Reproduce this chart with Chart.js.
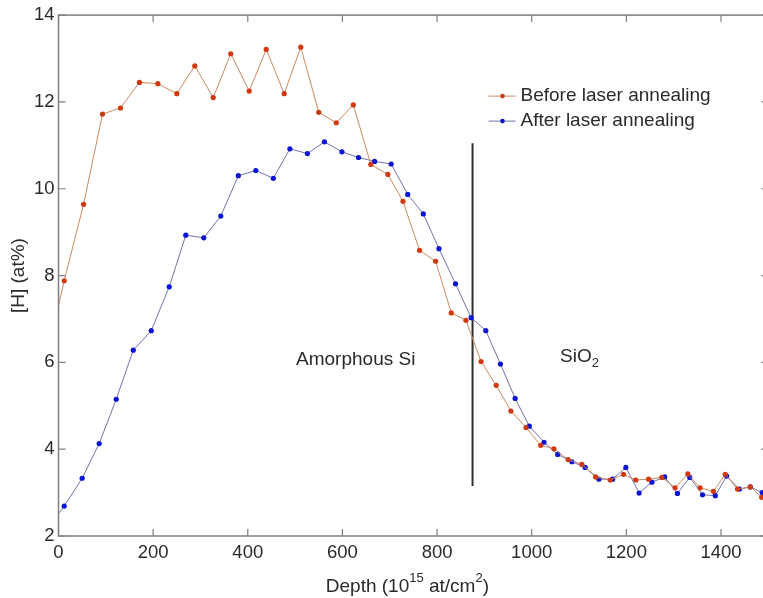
<!DOCTYPE html>
<html><head><meta charset="utf-8">
<script src="https://cdn.jsdelivr.net/npm/chart.js@4/dist/chart.umd.min.js"></script>
<style>
html,body{margin:0;padding:0;overflow:hidden;background:#fff;width:763px;height:598px}
#wrap{position:relative;width:775px;height:598px}
canvas{display:block}
</style>
</head><body><div id="wrap"><canvas id="c" width="775" height="598"></canvas></div>
<script>
// ---- data ----
const seriesLabels = ['Before laser annealing', 'After laser annealing'];
const beforeDepth = [-25, 12, 53, 93, 131, 171, 210, 250, 288, 327, 364, 403, 439, 477, 512, 550, 587, 623, 660, 696, 728, 763, 797, 830, 861, 893, 925, 956, 988, 1019, 1047, 1077, 1106, 1135, 1166, 1194, 1220, 1247, 1275, 1303, 1330, 1356, 1384, 1409, 1435, 1462, 1486];
const beforeH = [6.09, 7.88, 9.64, 11.72, 11.86, 12.45, 12.42, 12.19, 12.83, 12.10, 13.11, 12.25, 13.21, 12.19, 13.26, 11.76, 11.52, 11.93, 10.56, 10.33, 9.71, 8.58, 8.33, 7.14, 6.97, 6.02, 5.47, 4.88, 4.50, 4.09, 4.01, 3.76, 3.65, 3.36, 3.29, 3.42, 3.29, 3.31, 3.35, 3.11, 3.43, 3.11, 3.03, 3.42, 3.08, 3.13, 2.89];
const afterDepth = [-25, 12, 50, 86, 122, 158, 196, 234, 269, 307, 343, 380, 417, 454, 489, 526, 562, 599, 634, 668, 703, 738, 771, 804, 839, 872, 903, 934, 965, 995, 1026, 1055, 1085, 1113, 1142, 1171, 1199, 1227, 1254, 1281, 1308, 1334, 1361, 1388, 1412, 1439, 1462, 1487];
const afterH = [2.15, 2.69, 3.33, 4.13, 5.15, 6.28, 6.73, 7.74, 8.93, 8.87, 9.37, 10.30, 10.42, 10.24, 10.92, 10.81, 11.08, 10.85, 10.72, 10.63, 10.57, 9.87, 9.42, 8.62, 7.81, 7.03, 6.73, 5.96, 5.17, 4.53, 4.16, 3.88, 3.71, 3.58, 3.31, 3.31, 3.58, 2.99, 3.24, 3.36, 2.98, 3.35, 2.95, 2.93, 3.38, 3.08, 3.13, 3.00];
const dividerDepth = [875, 875];
const dividerH = [3.15, 11.05];
const xTicks = [0, 200, 400, 600, 800, 1000, 1200, 1400];
const yTicks = [2, 4, 6, 8, 10, 12, 14];
const regionLabels = ['Amorphous Si', 'SiO'];
const regionAnchorDepth = [502, 1060];
const regionAnchorH = [5.94, 6.0];

// ---- styling ----
const FONT = '"Liberation Sans", Arial, Helvetica, sans-serif';
const TEXT = '#2a2a2a';
const AXIS = '#7f7f7f';
const RED_LINE = '#c98a62', RED_PT = '#d2380f';
const BLUE_LINE = '#6f76ab', BLUE_PT = '#0a14d4';

const zip = (xs, ys) => xs.map((v, i) => ({ x: v, y: ys[i] }));

const overlay = {
  id: 'overlay',
  afterDraw(chart) {
    const { ctx, chartArea: a, scales: { x, y } } = chart;
    ctx.save();
    // box
    ctx.strokeStyle = AXIS; ctx.lineWidth = 1.5;
    ctx.strokeRect(a.left, a.top, a.right - a.left, a.bottom - a.top);
    // inward ticks
    ctx.lineWidth = 1.2;
    ctx.beginPath();
    x.ticks.forEach(t => {
      const px = x.getPixelForValue(t.value);
      ctx.moveTo(px, a.bottom); ctx.lineTo(px, a.bottom - 7);
      ctx.moveTo(px, a.top); ctx.lineTo(px, a.top + 7);
    });
    y.ticks.forEach(t => {
      const py = y.getPixelForValue(t.value);
      ctx.moveTo(a.left, py); ctx.lineTo(a.left + 7, py);
      ctx.moveTo(a.right, py); ctx.lineTo(a.right - 7, py);
    });
    ctx.stroke();

    // legend
    ctx.font = '19px ' + FONT;
    ctx.textBaseline = 'middle';
    ctx.fillStyle = TEXT;
    const ds = chart.data.datasets;
    [0, 1].forEach(i => {
      const ly = a.top + 81 + i * 25;
      const lx = a.left + 430;
      ctx.strokeStyle = ds[i].borderColor; ctx.lineWidth = 1;
      ctx.beginPath(); ctx.moveTo(lx, ly); ctx.lineTo(lx + 27, ly); ctx.stroke();
      ctx.fillStyle = ds[i].pointBackgroundColor;
      ctx.beginPath(); ctx.arc(lx + 14, ly, 2.3, 0, Math.PI * 2); ctx.fill();
      ctx.fillStyle = TEXT;
      ctx.textAlign = 'left';
      ctx.fillText(ds[i].label, lx + 32, ly);
    });

    // region labels
    ctx.textBaseline = 'alphabetic';
    ctx.textAlign = 'left';
    ctx.font = '19px ' + FONT;
    const p0x = x.getPixelForValue(regionAnchorDepth[0]), p0y = y.getPixelForValue(regionAnchorH[0]);
    ctx.fillText(regionLabels[0], p0x, p0y);
    const p1x = x.getPixelForValue(regionAnchorDepth[1]), p1y = y.getPixelForValue(regionAnchorH[1]);
    ctx.fillText(regionLabels[1], p1x, p1y);
    const w1 = ctx.measureText(regionLabels[1]).width;
    ctx.font = '13px ' + FONT;
    ctx.fillText('2', p1x + w1, p1y + 5);

    // x axis title with superscripts
    const parts = [['Depth (10', 19, 0], ['15', 13, -10], [' at/cm', 19, 0], ['2', 13, -10], [')', 19, 0]];
    let total = 0;
    parts.forEach(p => { ctx.font = p[1] + 'px ' + FONT; total += ctx.measureText(p[0]).width; });
    let cx = (a.left + a.right) / 2 - 6 - total / 2;
    const by = a.bottom + 56;
    parts.forEach(p => {
      ctx.font = p[1] + 'px ' + FONT;
      ctx.fillText(p[0], cx, by + p[2]);
      cx += ctx.measureText(p[0]).width;
    });
    ctx.restore();
  }
};

new Chart(document.getElementById('c'), {
  type: 'scatter',
  data: {
    datasets: [
      { label: seriesLabels[0], data: zip(beforeDepth, beforeH), showLine: true,
        borderColor: RED_LINE, borderWidth: 1, pointBackgroundColor: RED_PT, pointBorderWidth: 0,
        pointRadius: 2.6, tension: 0 },
      { label: seriesLabels[1], data: zip(afterDepth, afterH), showLine: true,
        borderColor: BLUE_LINE, borderWidth: 1, pointBackgroundColor: BLUE_PT, pointBorderWidth: 0,
        pointRadius: 2.6, tension: 0 },
      { label: 'divider', data: zip(dividerDepth, dividerH), showLine: true,
        borderColor: '#2e2e2e', borderWidth: 2, pointRadius: 0 }
    ]
  },
  options: {
    responsive: false,
    animation: false,
    devicePixelRatio: 1,
    layout: { padding: { top: 13, right: 6.7, left: 0, bottom: 0 } },
    plugins: { legend: { display: false }, tooltip: { enabled: false } },
    scales: {
      x: {
        type: 'linear', min: 0, max: 1500,
        grid: { display: false, drawTicks: false }, border: { display: false },
        ticks: { font: { family: FONT, size: 18.5 }, color: TEXT, padding: 6, maxRotation: 0, autoSkip: false,
                 callback: v => String(v) },
        afterBuildTicks: s => { s.ticks = xTicks.map(v => ({ value: v })); },
        afterFit: s => { s.height = 62; }
      },
      y: {
        type: 'linear', min: 2, max: 14,
        grid: { display: false, drawTicks: false }, border: { display: false },
        ticks: { font: { family: FONT, size: 18.5 }, color: TEXT, padding: 4, autoSkip: false,
                 callback: v => String(v) },
        afterBuildTicks: s => { s.ticks = yTicks.map(v => ({ value: v })); },
        afterFit: s => { s.width = 58.5; },
        title: { display: true, text: '[H] (at%)', font: { family: FONT, size: 19 }, color: TEXT, padding: { top: 7, bottom: 0 } }
      }
    }
  },
  plugins: [overlay]
});
</script>
</body></html>
